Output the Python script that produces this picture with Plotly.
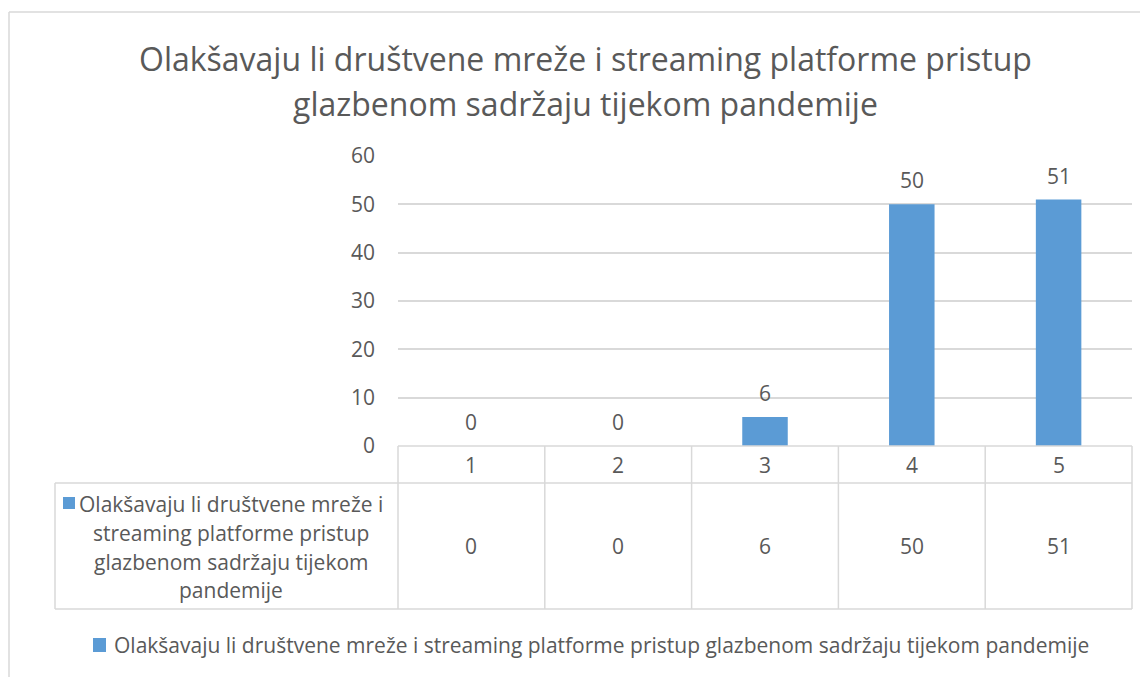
import plotly.graph_objects as go

# ---------------- data ----------------
categories = ["1", "2", "3", "4", "5"]
values = [0, 0, 6, 50, 51]
series_name = "Olakšavaju li društvene mreže i streaming platforme pristup glazbenom sadržaju tijekom pandemije"
title_lines = ["Olakšavaju li društvene mreže i streaming platforme pristup",
               "glazbenom sadržaju tijekom pandemije"]
name_cell_lines = ["Olakšavaju li društvene mreže i", "streaming platforme pristup",
                   "glazbenom sadržaju tijekom", "pandemije"]
y_ticks = [0, 10, 20, 30, 40, 50, 60]

# ---------------- style / geometry ----------------
OFF = 8                      # page body margin in the browser
W, H = 1148 - OFF, 677 - OFF
PL, PR, PT, PB = 398, 1132, 156, 446   # reference pixel coords of plot area
BAR_COLOR = "#5B9BD5"
TEXT = "#595959"
GRID = "#D9D9D9"
FONT = "Open Sans"
FS = 21
TFS = 32


def xp(px):
    return (px - PL) / (PR - PL)


def yp(py):
    return (PB - py) / (PB - PT)


n = len(categories)
pos = list(range(n))

fig = go.Figure()
fig.add_trace(go.Bar(x=pos, y=values, marker=dict(color=BAR_COLOR, line=dict(width=0)),
                     width=0.31, name=series_name, showlegend=False,
                     customdata=categories, hovertemplate="%{customdata}: %{y}<extra></extra>"))

shapes = []
annotations = []

# outer chart frame (top and left edges)
shapes.append(dict(type="line", xref="paper", yref="paper", x0=xp(9), x1=xp(1160), y0=yp(12), y1=yp(12),
                   line=dict(color=GRID, width=1.5)))
shapes.append(dict(type="line", xref="paper", yref="paper", x0=xp(9), x1=xp(9), y0=yp(12), y1=yp(690),
                   line=dict(color=GRID, width=1.5)))

# title
for i, t in enumerate(title_lines):
    annotations.append(dict(text=t, xref="paper", yref="paper", x=xp(585), y=yp([58, 103][i]),
                            showarrow=False, xanchor="center", yanchor="middle",
                            font=dict(family=FONT, size=TFS, color=TEXT)))

# data labels
for p, v in zip(pos, values):
    annotations.append(dict(text=str(v), x=p, y=v, xref="x", yref="y", showarrow=False,
                            yshift=24, xanchor="center", yanchor="middle",
                            font=dict(family=FONT, size=FS, color=TEXT)))

# data table
top_y, mid_y, bot_y = yp(PB), yp(483), yp(609)
left_x = xp(55)
tl = dict(color=GRID, width=1.5)
shapes.append(dict(type="line", xref="paper", yref="paper", x0=0, x1=1, y0=top_y, y1=top_y, line=tl))
shapes.append(dict(type="line", xref="paper", yref="paper", x0=left_x, x1=1, y0=mid_y, y1=mid_y, line=tl))
shapes.append(dict(type="line", xref="paper", yref="paper", x0=left_x, x1=1, y0=bot_y, y1=bot_y, line=tl))
shapes.append(dict(type="line", xref="paper", yref="paper", x0=left_x, x1=left_x, y0=mid_y, y1=bot_y, line=tl))
for i in range(n + 1):
    shapes.append(dict(type="line", xref="paper", yref="paper", x0=i / n, x1=i / n, y0=top_y, y1=bot_y, line=tl))

for p, c, v in zip(pos, categories, values):
    annotations.append(dict(text=c, x=p, xref="x", yref="paper", y=yp(464.5), showarrow=False,
                            xanchor="center", yanchor="middle", font=dict(family=FONT, size=FS, color=TEXT)))
    annotations.append(dict(text=str(v), x=p, xref="x", yref="paper", y=yp(546), showarrow=False,
                            xanchor="center", yanchor="middle", font=dict(family=FONT, size=FS, color=TEXT)))

# series name cell with key
shapes.append(dict(type="rect", xref="paper", yref="paper", x0=xp(63), x1=xp(75), y0=yp(497), y1=yp(509),
                   fillcolor=BAR_COLOR, line=dict(width=0)))
for i, t in enumerate(name_cell_lines):
    annotations.append(dict(text=t, xref="paper", yref="paper", x=xp(231), y=yp([504, 533, 562, 590][i]),
                            showarrow=False, xanchor="center", yanchor="middle",
                            font=dict(family=FONT, size=FS, color=TEXT)))

# legend at the bottom
shapes.append(dict(type="rect", xref="paper", yref="paper", x0=xp(93), x1=xp(106), y0=yp(638), y1=yp(652),
                   fillcolor=BAR_COLOR, line=dict(width=0)))
annotations.append(dict(text=series_name, xref="paper", yref="paper", x=xp(112), y=yp(645),
                        showarrow=False, xanchor="left", yanchor="middle",
                        font=dict(family=FONT, size=FS, color=TEXT)))

fig.update_layout(
    width=W, height=H,
    margin=dict(l=PL - OFF, r=1148 - PR, t=PT - OFF, b=677 - PB, pad=0),
    paper_bgcolor="white", plot_bgcolor="white",
    shapes=shapes, annotations=annotations,
    showlegend=False,
    xaxis=dict(range=[-0.5, n - 0.5], showticklabels=False, showgrid=False,
               zeroline=False, showline=False, ticks="", fixedrange=True),
    yaxis=dict(range=[0, 60], tickvals=y_ticks, showgrid=True, gridcolor=GRID, gridwidth=1.5,
               zeroline=False, showline=False, ticks="", ticklabelstandoff=22,
               tickfont=dict(family=FONT, size=FS, color=TEXT)),
)

fig.write_html("out.html")
